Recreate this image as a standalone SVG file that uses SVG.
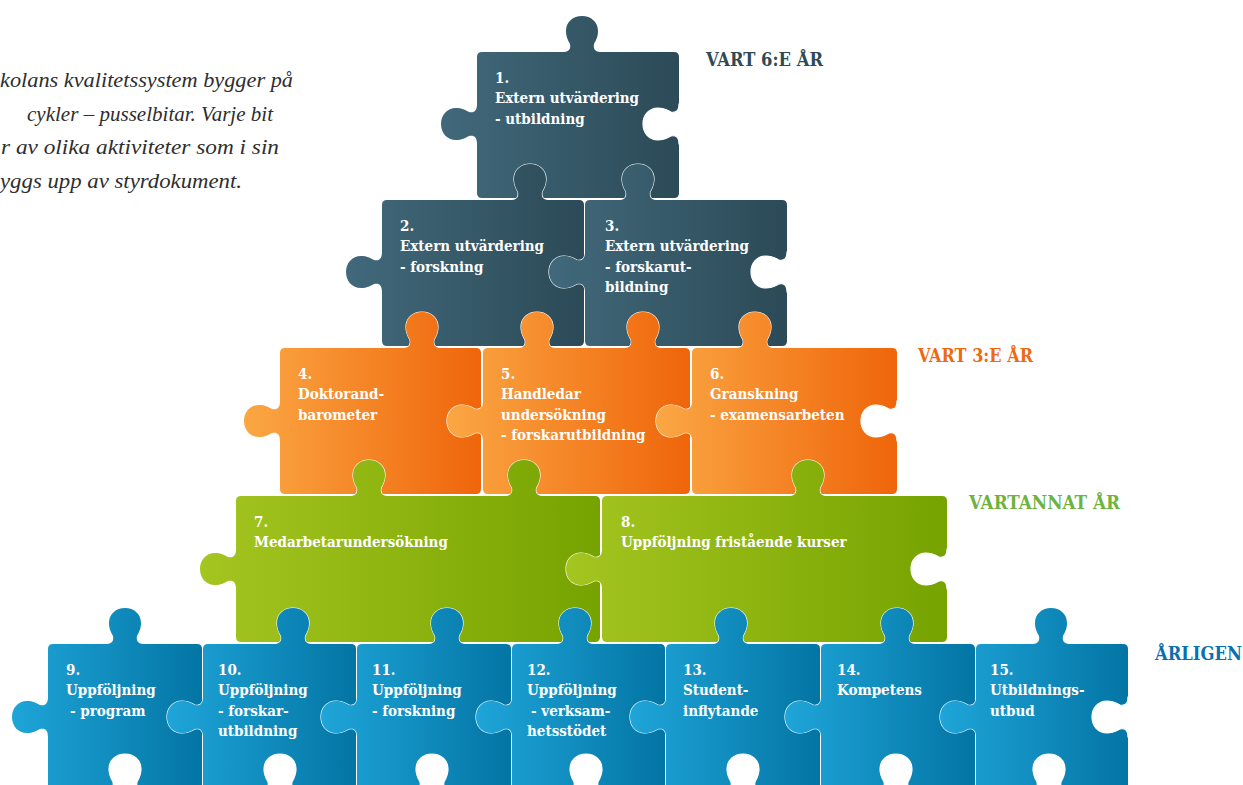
<svg xmlns="http://www.w3.org/2000/svg" width="1243" height="785" viewBox="0 0 1243 785">
<defs>
<linearGradient id="gT" x1="0" y1="0" x2="1" y2="0"><stop offset="0" stop-color="#41697b"/><stop offset="1" stop-color="#2c4a57"/></linearGradient>
<linearGradient id="gO" x1="0" y1="0" x2="1" y2="0"><stop offset="0" stop-color="#fba744"/><stop offset="1" stop-color="#ef650a"/></linearGradient>
<linearGradient id="gG" x1="0" y1="0" x2="1" y2="0"><stop offset="0" stop-color="#a5c520"/><stop offset="1" stop-color="#76a300"/></linearGradient>
<linearGradient id="gB" x1="0" y1="0" x2="1" y2="0"><stop offset="0" stop-color="#1fa5d9"/><stop offset="1" stop-color="#0375a4"/></linearGradient>
</defs>
<style>
.teal{fill:url(#gT)}.orange{fill:url(#gO)}.green{fill:url(#gG)}.blue{fill:url(#gB)}
.hole{fill:#fff;stroke:#fff;stroke-width:1.2}
.t{font-family:"DejaVu Serif","Liberation Serif",serif;font-stretch:condensed;font-weight:bold;font-size:15px;fill:#fff}
.h{font-family:"DejaVu Serif","Liberation Serif",serif;font-stretch:condensed;font-weight:bold;font-size:18.5px}
.p{font-family:"Liberation Serif",serif;font-style:italic;font-size:22px;fill:#2e2e2e}
</style>
<rect width="1243" height="785" fill="#fff"/>
<g id="intro">
<text class="p" x="0" y="87" textLength="293" lengthAdjust="spacingAndGlyphs">kolans kvalitetssystem bygger på</text>
<text class="p" x="0" y="120.5"><tspan x="27" textLength="246" lengthAdjust="spacingAndGlyphs">cykler – pusselbitar. Varje bit</tspan></text>
<text class="p" x="1" y="154" textLength="278" lengthAdjust="spacingAndGlyphs">r av olika aktiviteter som i sin</text>
<text class="p" x="0" y="187.5" textLength="242" lengthAdjust="spacingAndGlyphs">yggs upp av styrdokument.</text>
</g>
<g id="labels">
<text class="h" x="706" y="66" fill="#2e4a57" textLength="117" lengthAdjust="spacingAndGlyphs">VART 6:E ÅR</text>
<text class="h" x="918" y="362" fill="#ee6a12" textLength="115" lengthAdjust="spacingAndGlyphs">VART 3:E ÅR</text>
<text class="h" x="969" y="509" fill="#6db33f" textLength="151" lengthAdjust="spacingAndGlyphs">VARTANNAT ÅR</text>
<text class="h" x="1155" y="660" fill="#0a6fb0" textLength="87" lengthAdjust="spacingAndGlyphs">ÅRLIGEN</text>
</g>
<g id="p1">
<path class="teal" d="M482,52H674Q679,52 679,57V193Q679,198 674,198H482Q477,198 477,193V57Q477,52 482,52Z M562,56l0,-4c7,0 9,-3 8,-8c-2,-4 -4,-7 -4,-13c0,-9 7,-15 16,-15c9,0 16,6 16,15c0,6 -2,9 -4,13c-1,5 1,8 8,8l0,4z M481,144l-4,0c0,-7 -3,-9 -8,-8c-4,2 -7,4 -13,4c-9,0 -15,-7 -15,-16c0,-9 6,-16 15,-16c6,0 9,2 13,4c5,1 8,-1 8,-8l4,0z"/>
<path class="hole" d="M683,144l-4,0c0,-7 -3,-9 -8,-8c-4,2 -7,4 -13,4c-9,0 -15,-7 -15,-16c0,-9 6,-16 15,-16c6,0 9,2 13,4c5,1 8,-1 8,-8l4,0z M510,204l0,-4c7,0 9,-3 8,-8c-2,-4 -4,-7 -4,-13c0,-9 7,-15 16,-15c9,0 16,6 16,15c0,6 -2,9 -4,13c-1,5 1,8 8,8l0,4z M618,204l0,-4c7,0 9,-3 8,-8c-2,-4 -4,-7 -4,-13c0,-9 7,-15 16,-15c9,0 16,6 16,15c0,6 -2,9 -4,13c-1,5 1,8 8,8l0,4z"/>
<text class="t" x="495" y="82.5">1.</text><text class="t" x="495" y="103">Extern utvärdering</text><text class="t" x="495" y="123.5">- utbildning</text>
</g>
<g id="p2">
<path class="teal" d="M387,200H579Q584,200 584,205V341Q584,346 579,346H387Q382,346 382,341V205Q382,200 387,200Z M510,204l0,-4c7,0 9,-3 8,-8c-2,-4 -4,-7 -4,-13c0,-9 7,-15 16,-15c9,0 16,6 16,15c0,6 -2,9 -4,13c-1,5 1,8 8,8l0,4z M386,292l-4,0c0,-7 -3,-9 -8,-8c-4,2 -7,4 -13,4c-9,0 -15,-7 -15,-16c0,-9 6,-16 15,-16c6,0 9,2 13,4c5,1 8,-1 8,-8l4,0z"/>
<path class="hole" d="M589,292l-4,0c0,-7 -3,-9 -8,-8c-4,2 -7,4 -13,4c-9,0 -15,-7 -15,-16c0,-9 6,-16 15,-16c6,0 9,2 13,4c5,1 8,-1 8,-8l4,0z M402,352l0,-4c7,0 9,-3 8,-8c-2,-4 -4,-7 -4,-13c0,-9 7,-15 16,-15c9,0 16,6 16,15c0,6 -2,9 -4,13c-1,5 1,8 8,8l0,4z M517,352l0,-4c7,0 9,-3 8,-8c-2,-4 -4,-7 -4,-13c0,-9 7,-15 16,-15c9,0 16,6 16,15c0,6 -2,9 -4,13c-1,5 1,8 8,8l0,4z"/>
<text class="t" x="400" y="230.5">2.</text><text class="t" x="400" y="251">Extern utvärdering</text><text class="t" x="400" y="271.5">- forskning</text>
</g>
<g id="p3">
<path class="teal" d="M590,200H782Q787,200 787,205V341Q787,346 782,346H590Q585,346 585,341V205Q585,200 590,200Z M618,204l0,-4c7,0 9,-3 8,-8c-2,-4 -4,-7 -4,-13c0,-9 7,-15 16,-15c9,0 16,6 16,15c0,6 -2,9 -4,13c-1,5 1,8 8,8l0,4z M589,292l-4,0c0,-7 -3,-9 -8,-8c-4,2 -7,4 -13,4c-9,0 -15,-7 -15,-16c0,-9 6,-16 15,-16c6,0 9,2 13,4c5,1 8,-1 8,-8l4,0z"/>
<path class="hole" d="M791,292l-4,0c0,-7 -3,-9 -8,-8c-4,2 -7,4 -13,4c-9,0 -15,-7 -15,-16c0,-9 6,-16 15,-16c6,0 9,2 13,4c5,1 8,-1 8,-8l4,0z M623,352l0,-4c7,0 9,-3 8,-8c-2,-4 -4,-7 -4,-13c0,-9 7,-15 16,-15c9,0 16,6 16,15c0,6 -2,9 -4,13c-1,5 1,8 8,8l0,4z M735,352l0,-4c7,0 9,-3 8,-8c-2,-4 -4,-7 -4,-13c0,-9 7,-15 16,-15c9,0 16,6 16,15c0,6 -2,9 -4,13c-1,5 1,8 8,8l0,4z"/>
<text class="t" x="605" y="230.5">3.</text><text class="t" x="605" y="251">Extern utvärdering</text><text class="t" x="605" y="271.5">- forskarut-</text><text class="t" x="605" y="292">bildning</text>
</g>
<g id="p4">
<path class="orange" d="M285,348H476Q481,348 481,353V489Q481,494 476,494H285Q280,494 280,489V353Q280,348 285,348Z M402,352l0,-4c7,0 9,-3 8,-8c-2,-4 -4,-7 -4,-13c0,-9 7,-15 16,-15c9,0 16,6 16,15c0,6 -2,9 -4,13c-1,5 1,8 8,8l0,4z M284,441l-4,0c0,-7 -3,-9 -8,-8c-4,2 -7,4 -13,4c-9,0 -15,-7 -15,-16c0,-9 6,-16 15,-16c6,0 9,2 13,4c5,1 8,-1 8,-8l4,0z"/>
<path class="hole" d="M487,441l-4,0c0,-7 -3,-9 -8,-8c-4,2 -7,4 -13,4c-9,0 -15,-7 -15,-16c0,-9 6,-16 15,-16c6,0 9,2 13,4c5,1 8,-1 8,-8l4,0z M349,500l0,-4c7,0 9,-3 8,-8c-2,-4 -4,-7 -4,-13c0,-9 7,-15 16,-15c9,0 16,6 16,15c0,6 -2,9 -4,13c-1,5 1,8 8,8l0,4z"/>
<text class="t" x="298" y="378.5">4.</text><text class="t" x="298" y="399">Doktorand-</text><text class="t" x="298" y="419.5">barometer</text>
</g>
<g id="p5">
<path class="orange" d="M488,348H685Q690,348 690,353V489Q690,494 685,494H488Q483,494 483,489V353Q483,348 488,348Z M517,352l0,-4c7,0 9,-3 8,-8c-2,-4 -4,-7 -4,-13c0,-9 7,-15 16,-15c9,0 16,6 16,15c0,6 -2,9 -4,13c-1,5 1,8 8,8l0,4z M623,352l0,-4c7,0 9,-3 8,-8c-2,-4 -4,-7 -4,-13c0,-9 7,-15 16,-15c9,0 16,6 16,15c0,6 -2,9 -4,13c-1,5 1,8 8,8l0,4z M487,441l-4,0c0,-7 -3,-9 -8,-8c-4,2 -7,4 -13,4c-9,0 -15,-7 -15,-16c0,-9 6,-16 15,-16c6,0 9,2 13,4c5,1 8,-1 8,-8l4,0z"/>
<path class="hole" d="M696,441l-4,0c0,-7 -3,-9 -8,-8c-4,2 -7,4 -13,4c-9,0 -15,-7 -15,-16c0,-9 6,-16 15,-16c6,0 9,2 13,4c5,1 8,-1 8,-8l4,0z M504,500l0,-4c7,0 9,-3 8,-8c-2,-4 -4,-7 -4,-13c0,-9 7,-15 16,-15c9,0 16,6 16,15c0,6 -2,9 -4,13c-1,5 1,8 8,8l0,4z"/>
<text class="t" x="501" y="378.5">5.</text><text class="t" x="501" y="399">Handledar</text><text class="t" x="501" y="419.5">undersökning</text><text class="t" x="501" y="440">- forskarutbildning</text>
</g>
<g id="p6">
<path class="orange" d="M697,348H892Q897,348 897,353V489Q897,494 892,494H697Q692,494 692,489V353Q692,348 697,348Z M735,352l0,-4c7,0 9,-3 8,-8c-2,-4 -4,-7 -4,-13c0,-9 7,-15 16,-15c9,0 16,6 16,15c0,6 -2,9 -4,13c-1,5 1,8 8,8l0,4z M696,441l-4,0c0,-7 -3,-9 -8,-8c-4,2 -7,4 -13,4c-9,0 -15,-7 -15,-16c0,-9 6,-16 15,-16c6,0 9,2 13,4c5,1 8,-1 8,-8l4,0z"/>
<path class="hole" d="M901,441l-4,0c0,-7 -3,-9 -8,-8c-4,2 -7,4 -13,4c-9,0 -15,-7 -15,-16c0,-9 6,-16 15,-16c6,0 9,2 13,4c5,1 8,-1 8,-8l4,0z M788,500l0,-4c7,0 9,-3 8,-8c-2,-4 -4,-7 -4,-13c0,-9 7,-15 16,-15c9,0 16,6 16,15c0,6 -2,9 -4,13c-1,5 1,8 8,8l0,4z"/>
<text class="t" x="710" y="378.5">6.</text><text class="t" x="710" y="399">Granskning</text><text class="t" x="710" y="419.5">- examensarbeten</text>
</g>
<g id="p7">
<path class="green" d="M241,496H595Q600,496 600,501V637Q600,642 595,642H241Q236,642 236,637V501Q236,496 241,496Z M349,500l0,-4c7,0 9,-3 8,-8c-2,-4 -4,-7 -4,-13c0,-9 7,-15 16,-15c9,0 16,6 16,15c0,6 -2,9 -4,13c-1,5 1,8 8,8l0,4z M504,500l0,-4c7,0 9,-3 8,-8c-2,-4 -4,-7 -4,-13c0,-9 7,-15 16,-15c9,0 16,6 16,15c0,6 -2,9 -4,13c-1,5 1,8 8,8l0,4z M240,589l-4,0c0,-7 -3,-9 -8,-8c-4,2 -7,4 -13,4c-9,0 -15,-7 -15,-16c0,-9 6,-16 15,-16c6,0 9,2 13,4c5,1 8,-1 8,-8l4,0z"/>
<path class="hole" d="M606,589l-4,0c0,-7 -3,-9 -8,-8c-4,2 -7,4 -13,4c-9,0 -15,-7 -15,-16c0,-9 6,-16 15,-16c6,0 9,2 13,4c5,1 8,-1 8,-8l4,0z M273,648l0,-4c7,0 9,-3 8,-8c-2,-4 -4,-7 -4,-13c0,-9 7,-15 16,-15c9,0 16,6 16,15c0,6 -2,9 -4,13c-1,5 1,8 8,8l0,4z M427,648l0,-4c7,0 9,-3 8,-8c-2,-4 -4,-7 -4,-13c0,-9 7,-15 16,-15c9,0 16,6 16,15c0,6 -2,9 -4,13c-1,5 1,8 8,8l0,4z M555,648l0,-4c7,0 9,-3 8,-8c-2,-4 -4,-7 -4,-13c0,-9 7,-15 16,-15c9,0 16,6 16,15c0,6 -2,9 -4,13c-1,5 1,8 8,8l0,4z"/>
<text class="t" x="254" y="526.5">7.</text><text class="t" x="254" y="547">Medarbetarundersökning</text>
</g>
<g id="p8">
<path class="green" d="M607,496H942Q947,496 947,501V637Q947,642 942,642H607Q602,642 602,637V501Q602,496 607,496Z M788,500l0,-4c7,0 9,-3 8,-8c-2,-4 -4,-7 -4,-13c0,-9 7,-15 16,-15c9,0 16,6 16,15c0,6 -2,9 -4,13c-1,5 1,8 8,8l0,4z M606,589l-4,0c0,-7 -3,-9 -8,-8c-4,2 -7,4 -13,4c-9,0 -15,-7 -15,-16c0,-9 6,-16 15,-16c6,0 9,2 13,4c5,1 8,-1 8,-8l4,0z"/>
<path class="hole" d="M951,589l-4,0c0,-7 -3,-9 -8,-8c-4,2 -7,4 -13,4c-9,0 -15,-7 -15,-16c0,-9 6,-16 15,-16c6,0 9,2 13,4c5,1 8,-1 8,-8l4,0z M711,648l0,-4c7,0 9,-3 8,-8c-2,-4 -4,-7 -4,-13c0,-9 7,-15 16,-15c9,0 16,6 16,15c0,6 -2,9 -4,13c-1,5 1,8 8,8l0,4z M877,648l0,-4c7,0 9,-3 8,-8c-2,-4 -4,-7 -4,-13c0,-9 7,-15 16,-15c9,0 16,6 16,15c0,6 -2,9 -4,13c-1,5 1,8 8,8l0,4z"/>
<text class="t" x="621" y="526.5">8.</text><text class="t" x="621" y="547">Uppföljning fristående kurser</text>
</g>
<g id="p9">
<path class="blue" d="M53,644H197Q202,644 202,649V790H48V649Q48,644 53,644Z M105,648l0,-4c7,0 9,-3 8,-8c-2,-4 -4,-7 -4,-13c0,-9 7,-15 16,-15c9,0 16,6 16,15c0,6 -2,9 -4,13c-1,5 1,8 8,8l0,4z M52,737l-4,0c0,-7 -3,-9 -8,-8c-4,2 -7,4 -13,4c-9,0 -15,-7 -15,-16c0,-9 6,-16 15,-16c6,0 9,2 13,4c5,1 8,-1 8,-8l4,0z"/>
<path class="hole" d="M207,737l-4,0c0,-7 -3,-9 -8,-8c-4,2 -7,4 -13,4c-9,0 -15,-7 -15,-16c0,-9 6,-16 15,-16c6,0 9,2 13,4c5,1 8,-1 8,-8l4,0z M105,794l0,-4c7,0 9,-3 8,-8c-2,-4 -4,-7 -4,-13c0,-9 7,-15 16,-15c9,0 16,6 16,15c0,6 -2,9 -4,13c-1,5 1,8 8,8l0,4z"/>
<text class="t" x="66" y="674.5">9.</text><text class="t" x="66" y="695">Uppföljning</text><text class="t" x="70" y="715.5">- program</text>
</g>
<g id="p10">
<path class="blue" d="M208,644H351Q356,644 356,649V790H203V649Q203,644 208,644Z M273,648l0,-4c7,0 9,-3 8,-8c-2,-4 -4,-7 -4,-13c0,-9 7,-15 16,-15c9,0 16,6 16,15c0,6 -2,9 -4,13c-1,5 1,8 8,8l0,4z M207,737l-4,0c0,-7 -3,-9 -8,-8c-4,2 -7,4 -13,4c-9,0 -15,-7 -15,-16c0,-9 6,-16 15,-16c6,0 9,2 13,4c5,1 8,-1 8,-8l4,0z"/>
<path class="hole" d="M361,737l-4,0c0,-7 -3,-9 -8,-8c-4,2 -7,4 -13,4c-9,0 -15,-7 -15,-16c0,-9 6,-16 15,-16c6,0 9,2 13,4c5,1 8,-1 8,-8l4,0z M260,794l0,-4c7,0 9,-3 8,-8c-2,-4 -4,-7 -4,-13c0,-9 7,-15 16,-15c9,0 16,6 16,15c0,6 -2,9 -4,13c-1,5 1,8 8,8l0,4z"/>
<text class="t" x="218" y="674.5">10.</text><text class="t" x="218" y="695">Uppföljning</text><text class="t" x="218" y="715.5">- forskar-</text><text class="t" x="218" y="736">utbildning</text>
</g>
<g id="p11">
<path class="blue" d="M362,644H506Q511,644 511,649V790H357V649Q357,644 362,644Z M427,648l0,-4c7,0 9,-3 8,-8c-2,-4 -4,-7 -4,-13c0,-9 7,-15 16,-15c9,0 16,6 16,15c0,6 -2,9 -4,13c-1,5 1,8 8,8l0,4z M361,737l-4,0c0,-7 -3,-9 -8,-8c-4,2 -7,4 -13,4c-9,0 -15,-7 -15,-16c0,-9 6,-16 15,-16c6,0 9,2 13,4c5,1 8,-1 8,-8l4,0z"/>
<path class="hole" d="M516,737l-4,0c0,-7 -3,-9 -8,-8c-4,2 -7,4 -13,4c-9,0 -15,-7 -15,-16c0,-9 6,-16 15,-16c6,0 9,2 13,4c5,1 8,-1 8,-8l4,0z M412,794l0,-4c7,0 9,-3 8,-8c-2,-4 -4,-7 -4,-13c0,-9 7,-15 16,-15c9,0 16,6 16,15c0,6 -2,9 -4,13c-1,5 1,8 8,8l0,4z"/>
<text class="t" x="372" y="674.5">11.</text><text class="t" x="372" y="695">Uppföljning</text><text class="t" x="372" y="715.5">- forskning</text>
</g>
<g id="p12">
<path class="blue" d="M517,644H660Q665,644 665,649V790H512V649Q512,644 517,644Z M555,648l0,-4c7,0 9,-3 8,-8c-2,-4 -4,-7 -4,-13c0,-9 7,-15 16,-15c9,0 16,6 16,15c0,6 -2,9 -4,13c-1,5 1,8 8,8l0,4z M516,737l-4,0c0,-7 -3,-9 -8,-8c-4,2 -7,4 -13,4c-9,0 -15,-7 -15,-16c0,-9 6,-16 15,-16c6,0 9,2 13,4c5,1 8,-1 8,-8l4,0z"/>
<path class="hole" d="M670,737l-4,0c0,-7 -3,-9 -8,-8c-4,2 -7,4 -13,4c-9,0 -15,-7 -15,-16c0,-9 6,-16 15,-16c6,0 9,2 13,4c5,1 8,-1 8,-8l4,0z M566,794l0,-4c7,0 9,-3 8,-8c-2,-4 -4,-7 -4,-13c0,-9 7,-15 16,-15c9,0 16,6 16,15c0,6 -2,9 -4,13c-1,5 1,8 8,8l0,4z"/>
<text class="t" x="527" y="674.5">12.</text><text class="t" x="527" y="695">Uppföljning</text><text class="t" x="531" y="715.5">- verksam-</text><text class="t" x="527" y="736">hetsstödet</text>
</g>
<g id="p13">
<path class="blue" d="M671,644H815Q820,644 820,649V790H666V649Q666,644 671,644Z M711,648l0,-4c7,0 9,-3 8,-8c-2,-4 -4,-7 -4,-13c0,-9 7,-15 16,-15c9,0 16,6 16,15c0,6 -2,9 -4,13c-1,5 1,8 8,8l0,4z M670,737l-4,0c0,-7 -3,-9 -8,-8c-4,2 -7,4 -13,4c-9,0 -15,-7 -15,-16c0,-9 6,-16 15,-16c6,0 9,2 13,4c5,1 8,-1 8,-8l4,0z"/>
<path class="hole" d="M825,737l-4,0c0,-7 -3,-9 -8,-8c-4,2 -7,4 -13,4c-9,0 -15,-7 -15,-16c0,-9 6,-16 15,-16c6,0 9,2 13,4c5,1 8,-1 8,-8l4,0z M723,794l0,-4c7,0 9,-3 8,-8c-2,-4 -4,-7 -4,-13c0,-9 7,-15 16,-15c9,0 16,6 16,15c0,6 -2,9 -4,13c-1,5 1,8 8,8l0,4z"/>
<text class="t" x="683" y="674.5">13.</text><text class="t" x="683" y="695">Student-</text><text class="t" x="683" y="715.5">inflytande</text>
</g>
<g id="p14">
<path class="blue" d="M826,644H970Q975,644 975,649V790H821V649Q821,644 826,644Z M877,648l0,-4c7,0 9,-3 8,-8c-2,-4 -4,-7 -4,-13c0,-9 7,-15 16,-15c9,0 16,6 16,15c0,6 -2,9 -4,13c-1,5 1,8 8,8l0,4z M825,737l-4,0c0,-7 -3,-9 -8,-8c-4,2 -7,4 -13,4c-9,0 -15,-7 -15,-16c0,-9 6,-16 15,-16c6,0 9,2 13,4c5,1 8,-1 8,-8l4,0z"/>
<path class="hole" d="M980,737l-4,0c0,-7 -3,-9 -8,-8c-4,2 -7,4 -13,4c-9,0 -15,-7 -15,-16c0,-9 6,-16 15,-16c6,0 9,2 13,4c5,1 8,-1 8,-8l4,0z M876,794l0,-4c7,0 9,-3 8,-8c-2,-4 -4,-7 -4,-13c0,-9 7,-15 16,-15c9,0 16,6 16,15c0,6 -2,9 -4,13c-1,5 1,8 8,8l0,4z"/>
<text class="t" x="837" y="674.5">14.</text><text class="t" x="837" y="695">Kompetens</text>
</g>
<g id="p15">
<path class="blue" d="M981,644H1123Q1128,644 1128,649V790H976V649Q976,644 981,644Z M1031,648l0,-4c7,0 9,-3 8,-8c-2,-4 -4,-7 -4,-13c0,-9 7,-15 16,-15c9,0 16,6 16,15c0,6 -2,9 -4,13c-1,5 1,8 8,8l0,4z M980,737l-4,0c0,-7 -3,-9 -8,-8c-4,2 -7,4 -13,4c-9,0 -15,-7 -15,-16c0,-9 6,-16 15,-16c6,0 9,2 13,4c5,1 8,-1 8,-8l4,0z"/>
<path class="hole" d="M1132,737l-4,0c0,-7 -3,-9 -8,-8c-4,2 -7,4 -13,4c-9,0 -15,-7 -15,-16c0,-9 6,-16 15,-16c6,0 9,2 13,4c5,1 8,-1 8,-8l4,0z M1029,794l0,-4c7,0 9,-3 8,-8c-2,-4 -4,-7 -4,-13c0,-9 7,-15 16,-15c9,0 16,6 16,15c0,6 -2,9 -4,13c-1,5 1,8 8,8l0,4z"/>
<text class="t" x="990" y="674.5">15.</text><text class="t" x="990" y="695">Utbildnings-</text><text class="t" x="990" y="715.5">utbud</text>
</g>
</svg>
